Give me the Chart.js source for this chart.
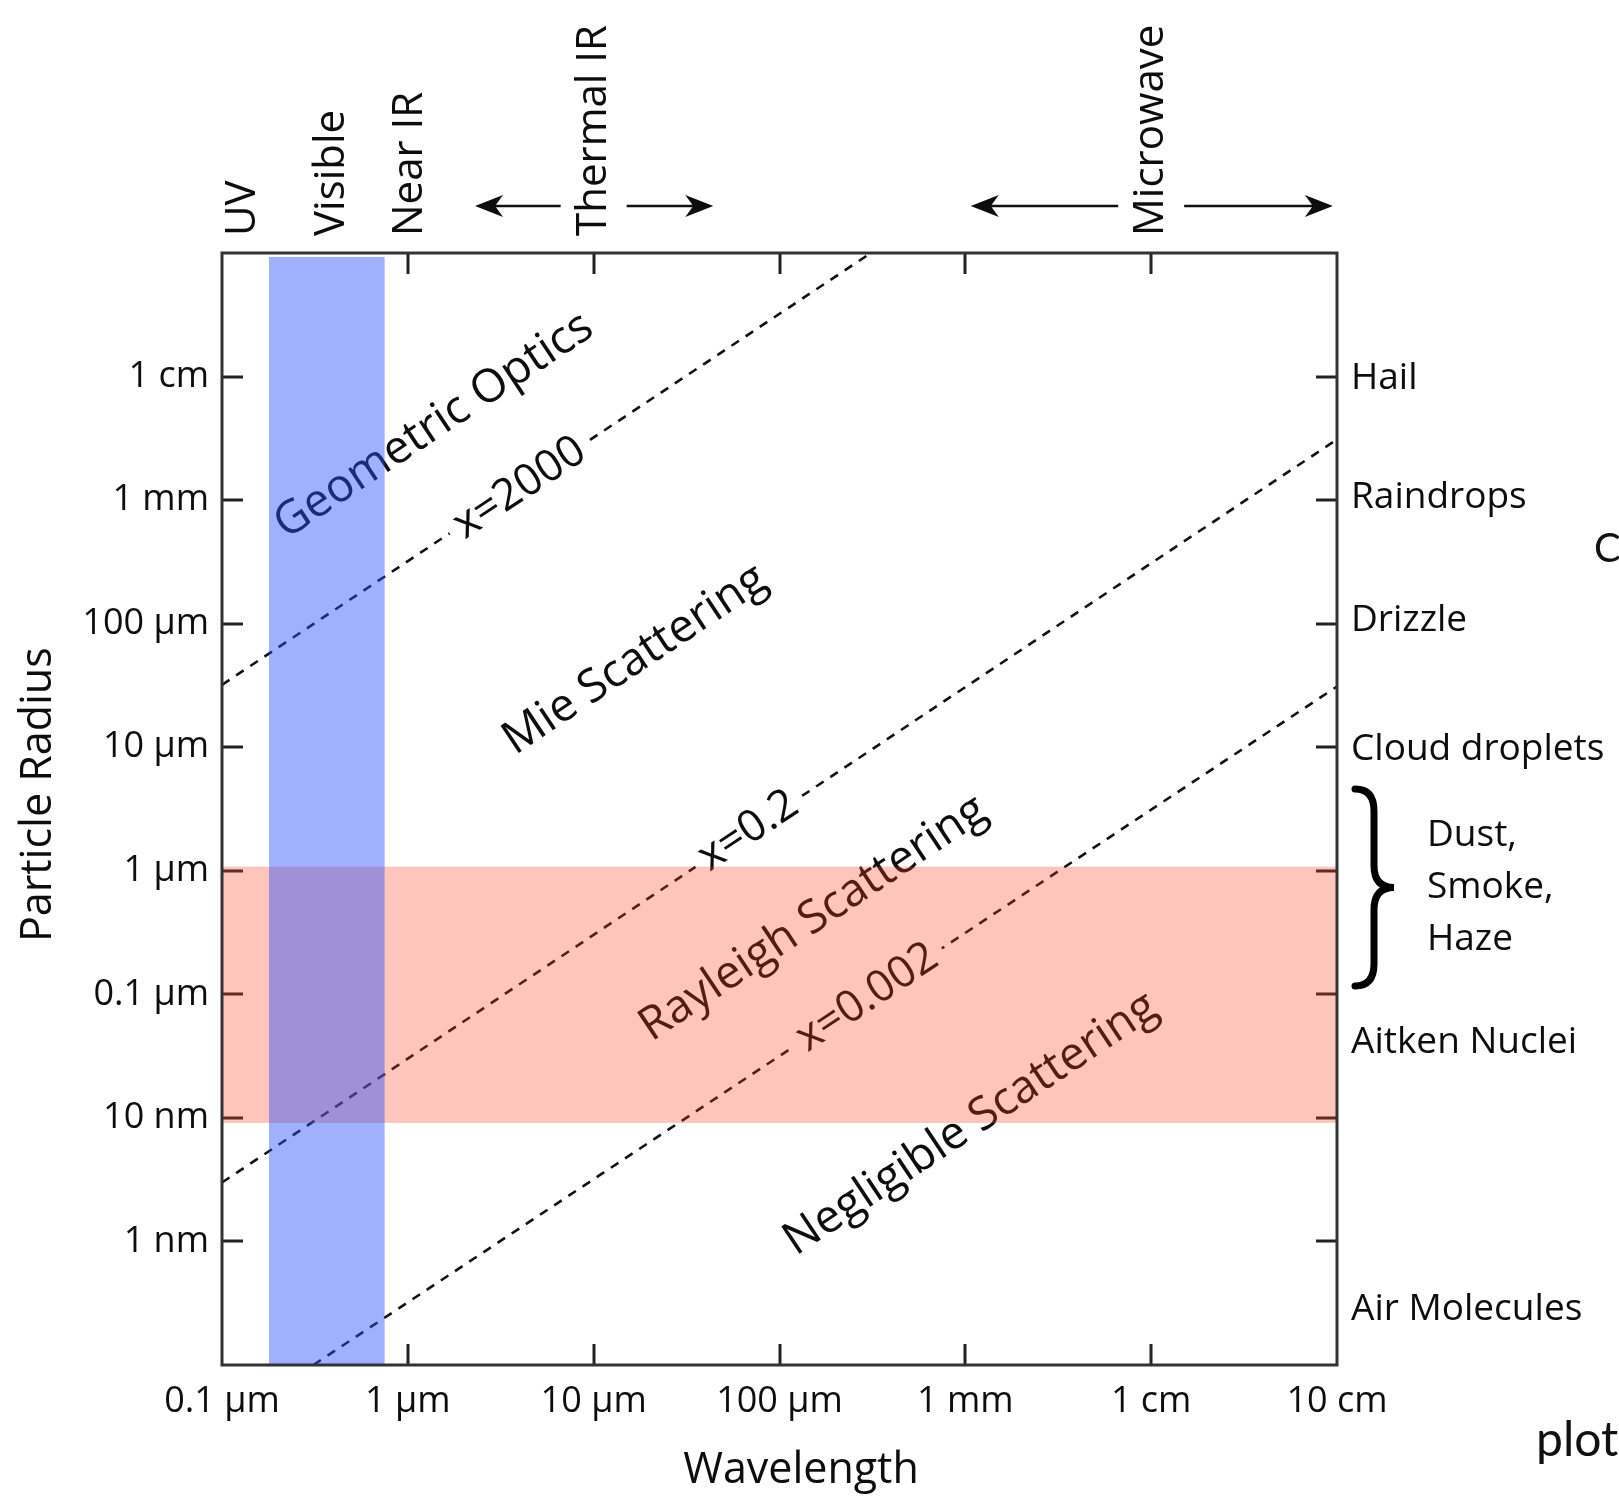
<!DOCTYPE html>
<html><head><meta charset="utf-8">
<script src="https://cdn.jsdelivr.net/npm/chart.js@4.4.1/dist/chart.umd.min.js"></script>
<style>html,body{margin:0;padding:0;background:#fff;}#wrap{width:1619px;height:1497px;}</style>
</head><body><div id="wrap"><canvas id="c" width="1619" height="1497"></canvas></div>
<script>
// ---- data (all lengths in metres) ----
const xTickValues = [1e-7, 1e-6, 1e-5, 1e-4, 1e-3, 1e-2, 1e-1];
const xTickLabels = ['0.1 µm', '1 µm', '10 µm', '100 µm', '1 mm', '1 cm', '10 cm'];
const yTickValues = [1e-9, 1e-8, 1e-7, 1e-6, 1e-5, 1e-4, 1e-3, 1e-2];
const yTickLabels = ['1 nm', '10 nm', '0.1 µm', '1 µm', '10 µm', '100 µm', '1 mm', '1 cm'];

const sizeParamNames = ['x=2000', 'x=0.2', 'x=0.002'];
const sizeParamLine2000 = [{x: 1e-7, y: 3.2e-5}, {x: 3.1e-4, y: 0.1}];
const sizeParamLine02 = [{x: 1e-7, y: 3.0e-9}, {x: 0.1, y: 3.1e-3}];
const sizeParamLine0002 = [{x: 3.1e-7, y: 1e-10}, {x: 0.1, y: 3.1e-5}];
const sizeParamLabelAt = [{x: 4.0e-6, y: 1.25e-3}, {x: 6.8e-5, y: 2.1e-6}, {x: 2.97e-4, y: 9.4e-8}];

const regimeNames = ['Geometric Optics', 'Mie Scattering', 'Rayleigh Scattering', 'Negligible Scattering'];
const regimeAt = [{x: 1.38e-6, y: 4.0e-3}, {x: 1.67e-5, y: 5.1e-5}, {x: 1.52e-4, y: 4.1e-7}, {x: 1.07e-3, y: 8.9e-9}];

const visibleBand = {xMin: 1.79e-7, xMax: 7.5e-7, yMin: 1e-10, yMax: 0.093};
const rayleighBand = {xMin: 1e-7, xMax: 0.1, yMin: 9.1e-9, yMax: 1.08e-6};

const spectrumNames = ['UV', 'Visible', 'Near IR', 'Thermal IR', 'Microwave'];
const spectrumCenters = [1.29e-7, 3.93e-7, 1.03e-6, 1.0e-5, 1.0e-2];
const spectrumSpans = [null, null, null, [2.3e-6, 4.4e-5], [1.07e-3, 9.5e-2]];

const particleNames = ['Hail', 'Raindrops', 'Drizzle', 'Cloud droplets', 'Aitken Nuclei', 'Air Molecules'];
const particleRadii = [1e-2, 1.1e-3, 1.1e-4, 1e-5, 4.2e-8, 2.9e-10];
const aerosolNames = ['Dust,', 'Smoke,', 'Haze'];
const aerosolRange = [1.17e-7, 4.6e-6];

const FONT = "'Open Sans', 'Noto Sans', sans-serif";
const TXT = '#0d0d0d';

function arrow(ctx, x0, y0, x1, y1) {
  const dir = Math.sign(x1 - x0);
  ctx.beginPath(); ctx.moveTo(x0, y0); ctx.lineTo(x1 - dir * 10, y1); ctx.stroke();
  ctx.beginPath();
  ctx.moveTo(x1, y1);
  ctx.lineTo(x1 - dir * 28, y1 - 11);
  ctx.lineTo(x1 - dir * 20, y1);
  ctx.lineTo(x1 - dir * 28, y1 + 11);
  ctx.closePath(); ctx.fill();
}

const overlay = {
  id: 'overlay',
  afterDatasetsDraw(chart) {
    const {ctx, chartArea: a, scales: {x, y}} = chart;
    const L = sizeParamLine2000;
    const ang = Math.atan2(y.getPixelForValue(L[1].y) - y.getPixelForValue(L[0].y),
                           x.getPixelForValue(L[1].x) - x.getPixelForValue(L[0].x));
    ctx.save();
    ctx.beginPath(); ctx.rect(a.left, a.top, a.right - a.left, a.bottom - a.top); ctx.clip();
    ctx.textAlign = 'center'; ctx.textBaseline = 'middle';
    ctx.font = '44px ' + FONT;
    sizeParamNames.forEach((t, i) => {
      const px = x.getPixelForValue(sizeParamLabelAt[i].x), py = y.getPixelForValue(sizeParamLabelAt[i].y);
      ctx.save(); ctx.translate(px, py); ctx.rotate(ang);
      const w = ctx.measureText(t).width + 18;
      ctx.fillStyle = '#fff'; ctx.fillRect(-w / 2, -14, w, 28);
      ctx.fillStyle = TXT; ctx.fillText(t, 0, 0);
      ctx.restore();
    });
    ctx.font = '46px ' + FONT;
    regimeNames.forEach((t, i) => {
      const px = x.getPixelForValue(regimeAt[i].x), py = y.getPixelForValue(regimeAt[i].y);
      ctx.save(); ctx.translate(px, py); ctx.rotate(ang);
      ctx.fillStyle = TXT; ctx.fillText(t, 0, 0);
      ctx.restore();
    });
    // inner tick marks
    ctx.strokeStyle = '#222'; ctx.lineWidth = 3;
    xTickValues.slice(1, -1).forEach(v => {
      const px = Math.round(x.getPixelForValue(v));
      ctx.beginPath(); ctx.moveTo(px, a.bottom); ctx.lineTo(px, a.bottom - 21);
      ctx.moveTo(px, a.top); ctx.lineTo(px, a.top + 21); ctx.stroke();
    });
    yTickValues.forEach(v => {
      const py = Math.round(y.getPixelForValue(v));
      ctx.beginPath(); ctx.moveTo(a.left, py); ctx.lineTo(a.left + 21, py);
      ctx.moveTo(a.right, py); ctx.lineTo(a.right - 21, py); ctx.stroke();
    });
    ctx.restore();
  },
  afterDraw(chart) {
    const {ctx, chartArea: a, scales: {x, y}} = chart;
    ctx.save();
    // translucent bands on top
    ctx.save();
    ctx.beginPath(); ctx.rect(a.left, a.top, a.right - a.left, a.bottom - a.top); ctx.clip();
    const band = (b, col) => {
      const x0 = x.getPixelForValue(b.xMin), x1 = x.getPixelForValue(b.xMax);
      const y0 = y.getPixelForValue(b.yMax), y1 = y.getPixelForValue(b.yMin);
      ctx.fillStyle = col; ctx.fillRect(x0, y0, x1 - x0, y1 - y0);
    };
    band(rayleighBand, 'rgba(252,62,38,0.30)');
    band(visibleBand, 'rgba(44,79,248,0.45)');
    ctx.restore();
    // frame
    ctx.strokeStyle = '#333'; ctx.lineWidth = 3;
    ctx.strokeRect(a.left, a.top, a.right - a.left, a.bottom - a.top);
    // spectrum labels on top
    ctx.fillStyle = TXT; ctx.strokeStyle = '#111';
    ctx.font = '42px ' + FONT;
    ctx.textAlign = 'left'; ctx.textBaseline = 'middle';
    spectrumNames.forEach((t, i) => {
      const px = x.getPixelForValue(spectrumCenters[i]);
      ctx.save(); ctx.translate(px, a.top - 17); ctx.rotate(-Math.PI / 2);
      ctx.fillText(t, 0, 0); ctx.restore();
      const s = spectrumSpans[i];
      if (s) {
        ctx.lineWidth = 2.5;
        const ay = a.top - 47;
        arrow(ctx, px - 33, ay, x.getPixelForValue(s[0]), ay);
        arrow(ctx, px + 33, ay, x.getPixelForValue(s[1]), ay);
      }
    });
    // particle labels on the right
    ctx.font = '37px ' + FONT; ctx.textAlign = 'left'; ctx.textBaseline = 'middle';
    particleNames.forEach((t, i) => {
      ctx.fillText(t, a.right + 14, y.getPixelForValue(particleRadii[i]) + 2);
    });
    const yb = y.getPixelForValue(aerosolRange[0]), yt = y.getPixelForValue(aerosolRange[1]);
    const ym = (yb + yt) / 2;
    aerosolNames.forEach((t, i) => ctx.fillText(t, a.right + 90, ym + (i - 1) * 52));
    // curly brace
    const x0 = a.right + 18, x1 = a.right + 37, xp = a.right + 57, r = 22;
    ctx.lineWidth = 7; ctx.lineCap = 'round'; ctx.strokeStyle = '#000';
    ctx.beginPath();
    ctx.moveTo(x0, yt);
    ctx.quadraticCurveTo(x1, yt, x1, yt + r);
    ctx.lineTo(x1, ym - r);
    ctx.quadraticCurveTo(x1, ym, xp, ym);
    ctx.quadraticCurveTo(x1, ym, x1, ym + r);
    ctx.lineTo(x1, yb - r);
    ctx.quadraticCurveTo(x1, yb, x0, yb);
    ctx.stroke();
    // clipped fragments of surrounding slide text
    ctx.fillStyle = '#111';
    ctx.font = "400 40px Lato, 'Open Sans', sans-serif";
    ctx.textBaseline = 'alphabetic';
    ctx.fillText('C', 1594, 562);
    ctx.font = "400 48px Lato, 'Open Sans', sans-serif";
    ctx.fillText('plot', 1536, 1456);
    ctx.restore();
  }
};

const dash = {borderColor: '#111', borderWidth: 2.6, borderDash: [9, 8], pointRadius: 0, showLine: true, fill: false};

new Chart(document.getElementById('c'), {
  type: 'scatter',
  data: {
    datasets: [
      Object.assign({label: sizeParamNames[0], data: sizeParamLine2000}, dash),
      Object.assign({label: sizeParamNames[1], data: sizeParamLine02}, dash),
      Object.assign({label: sizeParamNames[2], data: sizeParamLine0002}, dash)
    ]
  },
  options: {
    responsive: false,
    animation: false,
    events: [],
    layout: {padding: {top: 253, right: 282, left: 0, bottom: 0}},
    plugins: {legend: {display: false}, tooltip: {enabled: false}},
    scales: {
      x: {
        type: 'logarithmic', position: 'bottom', min: 1e-7, max: 0.1,
        grid: {display: false}, border: {display: false},
        afterBuildTicks: s => { s.ticks = xTickValues.map(v => ({value: v})); },
        afterFit: s => { s.height = 132; },
        ticks: {autoSkip: false, maxRotation: 0, padding: 7, color: TXT, font: {family: FONT, size: 36},
          callback: (v, i) => xTickLabels[i]},
        title: {display: true, text: '\u2002\u2002Wavelength', color: TXT, font: {family: FONT, size: 43}, padding: {top: 0, bottom: 0}}
      },
      y: {
        type: 'logarithmic', position: 'left', min: 1e-10, max: 0.1,
        grid: {display: false}, border: {display: false},
        afterBuildTicks: s => { s.ticks = yTickValues.map(v => ({value: v})); },
        afterFit: s => { s.width = 222; },
        ticks: {autoSkip: false, padding: 5, color: TXT, font: {family: FONT, size: 36},
          callback: (v, i) => yTickLabels[i]},
        title: {display: true, text: '\u2002\u2009Particle Radius', color: TXT, font: {family: FONT, size: 43}, padding: {top: 13, bottom: 0}}
      }
    }
  },
  plugins: [overlay]
});
</script></body></html>
